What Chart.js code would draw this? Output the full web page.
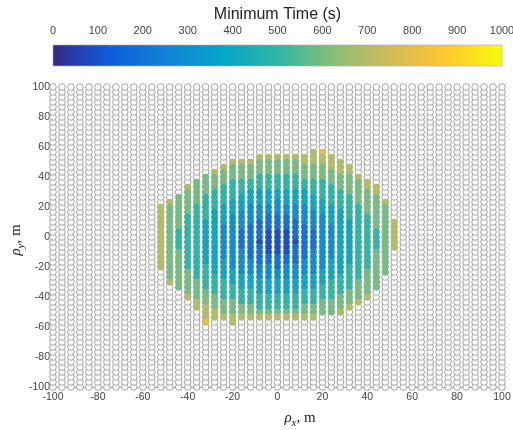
<!DOCTYPE html>
<html><head><meta charset="utf-8">
<script src="https://cdn.jsdelivr.net/npm/chart.js@4.4.1/dist/chart.umd.min.js"></script>
<style>html,body{margin:0;padding:0;background:#fff;}#wrap{width:513px;height:430px;}</style>
</head><body><div id="wrap"><canvas id="c" width="513" height="430"></canvas></div>
<script>
// Grid of candidate positions (m)
const gridX = [-100,-96,-92,-88,-84,-80,-76,-72,-68,-64,-60,-56,-52,-48,-44,-40,-36,-32,-28,-24,-20,-16,-12,-8,-4,0,4,8,12,16,20,24,28,32,36,40,44,48,52,56,60,64,68,72,76,80,84,88,92,96,100];
const gridY = [-100,-96.67,-93.33,-90,-86.67,-83.33,-80,-76.67,-73.33,-70,-66.67,-63.33,-60,-56.67,-53.33,-50,-46.67,-43.33,-40,-36.67,-33.33,-30,-26.67,-23.33,-20,-16.67,-13.33,-10,-6.67,-3.33,0,3.33,6.67,10,13.33,16.67,20,23.33,26.67,30,33.33,36.67,40,43.33,46.67,50,53.33,56.67,60,63.33,66.67,70,73.33,76.67,80,83.33,86.67,90,93.33,96.67,100];

// Feasible region: columns / rows and minimum time, one char per cell
// (digit = hundreds of seconds, read from colour; '.' = no solution)
const timeColX = [-52,-48,-44,-40,-36,-32,-28,-24,-20,-16,-12,-8,-4,0,4,8,12,16,20,24,28,32,36,40,44,48,52];
const timeRowY = [56.67,53.33,50,46.67,43.33,40,36.67,33.33,30,26.67,23.33,20,16.67,13.33,10,6.67,3.33,0,-3.33,-6.67,-10,-13.33,-16.67,-20,-23.33,-26.67,-30,-33.33,-36.67,-40,-43.33,-46.67,-50,-53.33,-56.67];
const timeRows = [
".................78........",
"...........777777777.......",
"........7776666677777......",
".......766666666666777.....",
"......7666666666666677.....",
".....666666555556666667....",
"....66665555555555566667...",
"...7666555555555555566677..",
"...6665555444444455556667..",
"..66655554444444445555666..",
".7666555444443444445556667.",
"76665554443333333444555666.",
"76665544433333333344455666.",
"76655544333322233334455566.",
"766554443332222233344455667",
"766554433322222223334455667",
"765554433222111222334455567",
"765554433222111222334455567",
"765554433221111122334455567",
"765554433222111222334455567",
"76655443332211122333445566.",
"76655443332222222333445566.",
"76655444333222223334445566.",
"76655544333332333334455566.",
".6665544433333333344455666.",
".666555444433333444455566..",
".766655544444444444555666..",
"..66655554444444445555666..",
"...666555554444455555666...",
"...766655555555555556667...",
"....7666655555555566667....",
"....776666655555666667.....",
".....7766666666666667......",
".....7777777777777.........",
".....8..7.................."
];
const colorbarTicks = [0,100,200,300,400,500,600,700,800,900,1000];
const parulaStops = ['#352a87','#0f5cdd','#1481d6','#06a4ca','#2eb7a4','#87bf77','#d1bb59','#fec832','#f9fb0e'];

function hexRgb(h){return [parseInt(h.slice(1,3),16),parseInt(h.slice(3,5),16),parseInt(h.slice(5,7),16)];}
const stopRgb = parulaStops.map(hexRgb);
function parula(v){
  let t = Math.max(0, Math.min(1, v/1000));
  const p = t*(stopRgb.length-1);
  const i = Math.min(stopRgb.length-2, Math.floor(p));
  const f = p - i;
  const a = stopRgb[i], b = stopRgb[i+1];
  return 'rgb(' + [0,1,2].map(k => Math.round(a[k]+(b[k]-a[k])*f)).join(',') + ')';
}

const hollow = [];
gridY.forEach(y => gridX.forEach(x => hollow.push({x, y})));
const filled = [];
timeRows.forEach((row, r) => {
  for (let c = 0; c < row.length; c++) {
    const ch = row[c];
    if (ch !== '.') filled.push({x: timeColX[c], y: timeRowY[r], v: Number(ch)*100});
  }
});

const colorbarPlugin = {
  id: 'colorbar',
  beforeDatasetsDraw(chart) {
    const s = chart.scales.cb; const ctx = chart.ctx;
    const x0 = s.getPixelForValue(0), x1 = s.getPixelForValue(1000);
    const y0 = 45, h = 21;
    const g = ctx.createLinearGradient(x0, 0, x1, 0);
    parulaStops.forEach((c, i) => g.addColorStop(i/(parulaStops.length-1), c));
    ctx.save();
    ctx.fillStyle = g; ctx.fillRect(x0, y0, x1-x0, h);
    ctx.strokeStyle = '#aaa'; ctx.lineWidth = 0.6; ctx.strokeRect(x0, y0, x1-x0, h);
    ctx.restore();
  }
};

function drawLabel(ctx, sub) {
  const big = 'italic 15px "Liberation Serif"', small = 'italic 11px "Liberation Serif"', up = '15px "Liberation Serif"';
  ctx.font = big; const w1 = ctx.measureText('\u03C1').width;
  ctx.font = small; const w2 = ctx.measureText(sub).width;
  ctx.font = up; const w3 = ctx.measureText(', m').width;
  let x = -(w1 + w2 + w3)/2;
  ctx.fillStyle = '#222'; ctx.textBaseline = 'alphabetic'; ctx.textAlign = 'left';
  ctx.font = big; ctx.fillText('\u03C1', x, 0); x += w1;
  ctx.font = small; ctx.fillText(sub, x, 4); x += w2;
  ctx.font = up; ctx.fillText(', m', x, 0);
}
const axisTitlePlugin = {
  id: 'axisTitles',
  afterDraw(chart) {
    const ctx = chart.ctx;
    ctx.save(); ctx.translate(300, 422); drawLabel(ctx, 'x'); ctx.restore();
    ctx.save(); ctx.translate(20, 240); ctx.rotate(-Math.PI/2); drawLabel(ctx, 'y'); ctx.restore();
  }
};

const noSidePad = s => { s.paddingLeft = 0; s.paddingRight = 0; };
const tickFont = {family: '"Liberation Sans", Arial, sans-serif', size: 10.5};
new Chart(document.getElementById('c'), {
  type: 'scatter',
  data: {datasets: [
    {data: filled, pointRadius: 3.2, pointBorderWidth: 0,
     pointBackgroundColor: c => parula(c.raw.v), clip: false},
    {data: hollow, pointRadius: 3.3, pointBackgroundColor: '#ffffff',
     pointBorderColor: '#8c8c8c', pointBorderWidth: 0.8, clip: false}
  ]},
  options: {
    responsive: false, animation: false, events: [],
    layout: {padding: {left: 0, right: 11, top: 0, bottom: 0}},
    plugins: {legend: {display: false}, tooltip: {enabled: false}},
    scales: {
      x: {type: 'linear', position: 'bottom', min: -100, max: 100,
          ticks: {stepSize: 20, font: tickFont, color: '#444', padding: 4, maxRotation: 0},
          grid: {display: false, drawTicks: false}, border: {display: true, color: '#888', width: 0.8},
          afterFit: s => { s.height = 43; noSidePad(s); }},
      y: {type: 'linear', position: 'left', min: -100, max: 100,
          ticks: {stepSize: 20, font: tickFont, color: '#444', padding: 3},
          grid: {display: false, drawTicks: false}, border: {display: true, color: '#888', width: 0.8},
          afterFit: s => { s.width = 53; }},
      cb: {type: 'linear', axis: 'x', position: 'top', min: 0, max: 1000,
           afterBuildTicks: s => { s.ticks = colorbarTicks.map(v => ({value: v})); },
           ticks: {font: {family: '"Liberation Sans", Arial, sans-serif', size: 11}, color: '#444', padding: 49, maxRotation: 0,
                   callback: v => String(v)},
           grid: {display: false, drawTicks: false}, border: {display: false},
           title: {display: true, text: 'Minimum Time (s)', color: '#222',
                   font: {family: '"Liberation Sans", Arial, sans-serif', size: 16}, padding: {top: 5, bottom: 0}},
           afterFit: s => { s.height = 87; noSidePad(s); }}
    }
  },
  plugins: [colorbarPlugin, axisTitlePlugin]
});
</script></body></html>
